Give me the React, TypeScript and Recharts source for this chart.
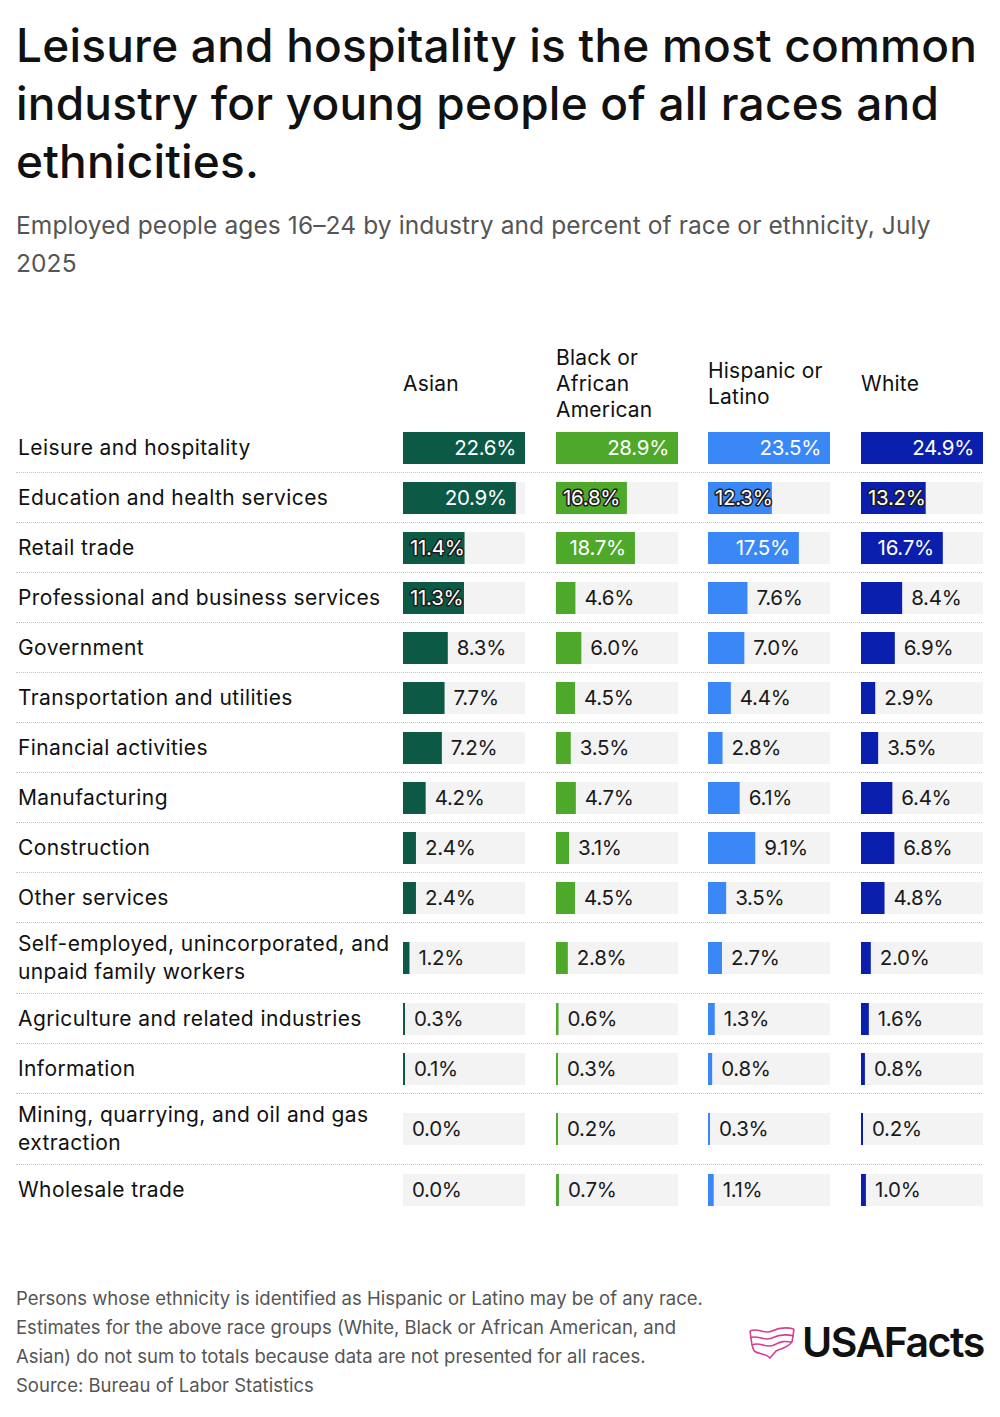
import React from "react";
import { BarChart, Bar, XAxis, YAxis, LabelList } from "recharts";

const industries = [
  "Leisure and hospitality",
  "Education and health services",
  "Retail trade",
  "Professional and business services",
  "Government",
  "Transportation and utilities",
  "Financial activities",
  "Manufacturing",
  "Construction",
  "Other services",
  "Self-employed, unincorporated, and\nunpaid family workers",
  "Agriculture and related industries",
  "Information",
  "Mining, quarrying, and oil and gas\nextraction",
  "Wholesale trade",
];

const groups = ["Asian", "Black or\nAfrican\nAmerican", "Hispanic or\nLatino", "White"];

const asian = [22.6, 20.9, 11.4, 11.3, 8.3, 7.7, 7.2, 4.2, 2.4, 2.4, 1.2, 0.3, 0.1, 0.0, 0.0];
const black = [28.9, 16.8, 18.7, 4.6, 6.0, 4.5, 3.5, 4.7, 3.1, 4.5, 2.8, 0.6, 0.3, 0.2, 0.7];
const hispanic = [23.5, 12.3, 17.5, 7.6, 7.0, 4.4, 2.8, 6.1, 9.1, 3.5, 2.7, 1.3, 0.8, 0.3, 1.1];
const white = [24.9, 13.2, 16.7, 8.4, 6.9, 2.9, 3.5, 6.4, 6.8, 4.8, 2.0, 1.6, 0.8, 0.2, 1.0];

const colors = ["#0c5a46", "#4ea82a", "#3a87f7", "#0b1fae"];
const columnX = [403, 556, 708, 861];
const COL_W = 122;
const BAR_H = 32;
const FONT = "Inter, 'Noto Sans', sans-serif";

const series = [asian, black, hispanic, white];

const renderLabel = (props: any) => {
  const { x, y, width, height, value } = props;
  const text = `${Number(value).toFixed(1)}%`;
  const cy = y + height / 2 - 1;
  const w = Number(value) > 0 ? width : 0;
  const common = {
    y: cy,
    dominantBaseline: "central" as const,
    fontSize: 20.5,
    fontFamily: FONT,
    letterSpacing: -0.3,
  };
  if (w >= 75) {
    return (
      <text {...common} x={x + w - 9} textAnchor="end" fill="#fff">
        {text}
      </text>
    );
  }
  if (w >= 55) {
    return (
      <text
        {...common}
        x={x + 7}
        textAnchor="start"
        fill="#fff"
        stroke="#1c1c1c"
        strokeWidth={3}
        paintOrder="stroke"
        strokeLinejoin="round"
      >
        {text}
      </text>
    );
  }
  return (
    <text {...common} x={x + w + 9} textAnchor="start" fill="#1a1a1a">
      {text}
    </text>
  );
};

const Cell = ({ name, value, max, color }: any) => (
  <BarChart
    width={COL_W}
    height={BAR_H}
    layout="vertical"
    data={[{ name, value }]}
    margin={{ top: 0, right: 0, bottom: 0, left: 0 }}
    barCategoryGap={0}
  >
    <XAxis type="number" domain={[0, max]} hide />
    <YAxis type="category" dataKey="name" hide />
    <Bar
      dataKey="value"
      fill={value > 0 ? color : "transparent"}
      background={{ fill: "#f3f3f3" }}
      minPointSize={(v: number) => (v > 0 ? 2 : 0.01)}
      isAnimationActive={false}
    >
      <LabelList dataKey="value" content={renderLabel} />
    </Bar>
  </BarChart>
);

const Logo = () => (
  <div style={{ display: "flex", alignItems: "center" }}>
    <svg width="48" height="34" viewBox="0 0 48 34" style={{ marginRight: 6 }}>
      <g fill="none" stroke="#d6408f" strokeWidth="1.6" strokeLinejoin="round">
        <path d="M2 5 C10 1, 16 9, 24 5 S38 1, 46 3" />
        <path d="M2 12 C10 8, 16 16, 24 12 S38 8, 46 10" />
        <path d="M4 19 C12 15, 18 23, 26 19 S36 15, 44 16" />
        <path d="M6 25 C12 29, 18 27, 22 32 L28 25 C32 23, 38 22, 42 18" />
        <path d="M2 5 L4 19 L6 25" />
        <path d="M46 3 L44 16 L42 18" />
      </g>
    </svg>
    <span
      style={{
        fontFamily: FONT,
        fontWeight: 600,
        fontSize: 41,
        letterSpacing: -1.5,
        color: "#111",
        lineHeight: 1,
      }}
    >
      USAFacts
    </span>
  </div>
);

export default function App() {
  const maxes = series.map((s) => Math.max(...s));
  return (
    <div
      style={{
        position: "relative",
        width: 1000,
        height: 1417,
        background: "#fff",
        fontFamily: FONT,
        color: "#111",
      }}
    >
      <style>{`body{margin:0}`}</style>
      <div
        style={{
          position: "absolute",
          left: 16,
          top: 16,
          width: 980,
          fontSize: 46,
          fontWeight: 500,
          lineHeight: "58px",
          letterSpacing: 0.2,
        }}
      >
        Leisure and hospitality is the most common industry for young people of all races and
        ethnicities.
      </div>
      <div
        style={{
          position: "absolute",
          left: 16,
          top: 206,
          width: 945,
          fontSize: 24.5,
          lineHeight: "38px",
          color: "#555",
          letterSpacing: 0.1,
        }}
      >
        Employed people ages 16–24 by industry and percent of race or ethnicity, July 2025
      </div>

      {groups.map((g, i) => (
        <div
          key={g}
          style={{
            position: "absolute",
            left: columnX[i],
            top: 345,
            height: 77,
            display: "flex",
            alignItems: "center",
            whiteSpace: "pre-line",
            fontSize: 21,
            lineHeight: "26px",
            letterSpacing: 0.2,
          }}
        >
          {g}
        </div>
      ))}

      <div style={{ position: "absolute", left: 16, top: 422, width: 966 }}>
        {industries.map((label, r) => {
          const twoLines = label.includes("\n");
          return (
            <div
              key={label}
              style={{
                position: "relative",
                height: twoLines ? 71 : 50,
                borderTop: r > 0 ? "1px dotted #c4c4c4" : "1px solid transparent",
                boxSizing: "border-box",
                display: "flex",
                alignItems: "center",
              }}
            >
              <div
                style={{
                  position: "absolute",
                  left: 2,
                  width: 385,
                  whiteSpace: "pre-line",
                  fontSize: 21,
                  lineHeight: "28px",
                  letterSpacing: 0.4,
                }}
              >
                {label}
              </div>
              {series.map((s, c) => (
                <div
                  key={c}
                  style={{
                    position: "absolute",
                    left: columnX[c] - 16,
                    top: "50%",
                    marginTop: -BAR_H / 2,
                    height: BAR_H,
                  }}
                >
                  <Cell name={label} value={s[r]} max={maxes[c]} color={colors[c]} />
                </div>
              ))}
            </div>
          );
        })}
      </div>

      <div
        style={{
          position: "absolute",
          left: 16,
          top: 1284,
          width: 760,
          fontSize: 18.5,
          lineHeight: "29px",
          color: "#555",
        }}
      >
        Persons whose ethnicity is identified as Hispanic or Latino may be of any race.
        <br />
        Estimates for the above race groups (White, Black or African American, and
        <br />
        Asian) do not sum to totals because data are not presented for all races.
        <br />
        Source: Bureau of Labor Statistics
      </div>
      <div style={{ position: "absolute", left: 748, top: 1322 }}>
        <Logo />
      </div>
    </div>
  );
}
